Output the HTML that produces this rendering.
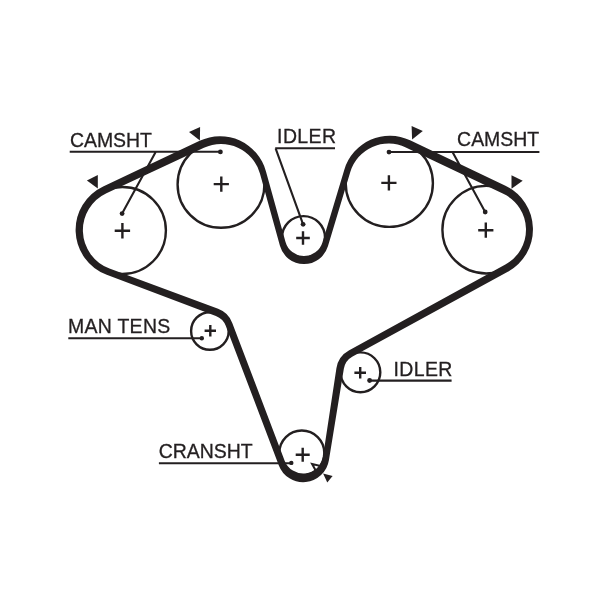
<!DOCTYPE html><html><head><meta charset="utf-8"><title>Timing belt</title>
<style>html,body{margin:0;padding:0;background:#fff}svg{display:block;will-change:transform}text{font-family:"Liberation Sans",sans-serif;font-size:19.45px;fill:#231f20;stroke:#231f20;stroke-width:0.3px}</style></head><body>
<svg width="600" height="589" viewBox="0 0 600 589">
<rect width="600" height="589" fill="#fff"/>
<circle cx="122.4" cy="230.5" r="43.5" fill="none" stroke="#231f20" stroke-width="2.4"/>
<circle cx="221.0" cy="184.4" r="43.4" fill="none" stroke="#231f20" stroke-width="2.4"/>
<circle cx="303.5" cy="237.6" r="21.5" fill="none" stroke="#231f20" stroke-width="2.4"/>
<circle cx="389.3" cy="183.3" r="43.6" fill="none" stroke="#231f20" stroke-width="2.4"/>
<circle cx="486.2" cy="229.7" r="43.8" fill="none" stroke="#231f20" stroke-width="2.4"/>
<circle cx="360.4" cy="372.3" r="19.9" fill="none" stroke="#231f20" stroke-width="2.4"/>
<circle cx="301.8" cy="453.0" r="22.5" fill="none" stroke="#231f20" stroke-width="2.4"/>
<circle cx="209.9" cy="331.0" r="18.8" fill="none" stroke="#231f20" stroke-width="2.4"/>
<path d="M114.7,230.8H130.1M122.4,223.1V238.5" stroke="#231f20" stroke-width="2.4" fill="none"/>
<path d="M213.7,184.1H228.9M221.3,176.5V191.7" stroke="#231f20" stroke-width="2.4" fill="none"/>
<path d="M296.2,238.0H309.8M303.0,231.2V244.8" stroke="#231f20" stroke-width="2.4" fill="none"/>
<path d="M381.3,182.9H396.5M388.9,175.3V190.5" stroke="#231f20" stroke-width="2.4" fill="none"/>
<path d="M478.2,230.2H493.4M485.8,222.6V237.8" stroke="#231f20" stroke-width="2.4" fill="none"/>
<path d="M354.4,372.8H366.0M360.2,367.0V378.6" stroke="#231f20" stroke-width="2.4" fill="none"/>
<path d="M295.7,454.7H309.7M302.7,447.7V461.7" stroke="#231f20" stroke-width="2.4" fill="none"/>
<path d="M204.6,330.7H216.0M210.3,325.0V336.4" stroke="#231f20" stroke-width="2.4" fill="none"/>
<path d="M312.1,464L322.7,466.6L316.7,472.3Z" fill="#fff" stroke="#231f20" stroke-width="2"/>
<path d="M103.15,186.40 L199.65,140.85 A47.65,47.65 0 0 1 265.91,171.21 L285.53,242.01 A19.20,19.20 0 0 0 322.41,242.42 L344.39,169.46 A47.35,47.35 0 0 1 410.09,140.37 L505.43,185.80 A48.30,48.30 0 0 1 507.79,271.80 L352.60,356.51 A17.25,17.25 0 0 0 343.84,368.87 L328.91,460.34 A26.05,26.05 0 0 1 278.85,465.41 L225.75,325.78 A16.95,16.95 0 0 0 215.88,315.94 L106.72,274.82 A48.05,48.05 0 0 1 103.15,186.40 Z M106.44,193.26 L203.92,147.79 A40.40,40.40 0 0 1 259.93,173.61 L279.93,245.79 A24.98,24.98 0 0 0 327.92,246.32 L350.29,172.04 A40.05,40.05 0 0 1 405.83,147.42 L503.29,193.76 A39.80,39.80 0 0 1 505.37,264.58 L348.82,350.59 A24.45,24.45 0 0 0 336.42,368.35 L323.02,456.58 A19.95,19.95 0 0 1 284.65,460.68 L232.26,322.94 A24.20,24.20 0 0 0 218.08,308.86 L109.47,268.47 A40.80,40.80 0 0 1 106.44,193.26 Z" fill="#231f20" fill-rule="evenodd" stroke="none"/>
<!-- labels -->
<g stroke="#231f20" stroke-width="2.1" fill="none">
<path d="M69.7,151.8H220.4M155.8,151.8L122.1,213.6"/>
<path d="M275.2,148.3H335M275.6,148.3L303.1,224.3"/>
<path d="M389,152H539.4M452.5,152L485.2,212"/>
<path d="M68.3,338.3H201.8"/>
<path d="M369.6,380.6H451.6"/>
<path d="M158.9,463.2H291.3"/>
</g>
<g fill="#231f20">
<circle cx="220.4" cy="151.9" r="2.4"/><circle cx="122.1" cy="213.6" r="2.4"/>
<circle cx="303.1" cy="224.3" r="2.4"/>
<circle cx="389" cy="152.1" r="2.4"/><circle cx="485.2" cy="212" r="2.4"/>
<circle cx="201.8" cy="338.2" r="2.2"/><circle cx="369.6" cy="380.5" r="2.4"/><circle cx="291.3" cy="462.9" r="2.2"/>
<path d="M86.9,180.5L97.8,174.9L97.8,188.4Z"/>
<path d="M189,132.1L200.1,126.9L199.9,140.6Z"/>
<path d="M411.6,126L422.8,131.1L412.1,139.6Z"/>
<path d="M511.5,175.2L522.7,180.8L511.5,188.7Z"/>
<path d="M323.1,473.4L332.6,476.1L327.3,482.6Z"/>
</g>
<text x="69.9" y="146.5">CAMSHT</text>
<text x="277.1" y="142.6" letter-spacing="0.4">IDLER</text>
<text x="457.1" y="146.4">CAMSHT</text>
<text x="68" y="332.9" letter-spacing="0.3">MAN TENS</text>
<text x="393.5" y="375.8" letter-spacing="0.4">IDLER</text>
<text x="158.8" y="457.6">CRANSHT</text>

</svg></body></html>
